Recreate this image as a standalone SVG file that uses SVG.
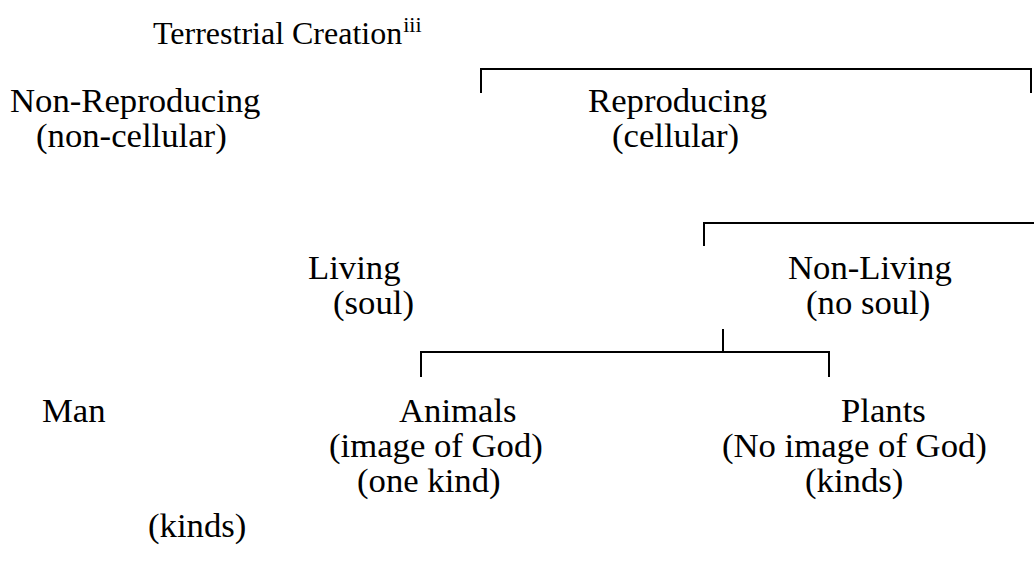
<svg xmlns="http://www.w3.org/2000/svg" width="1034" height="572" viewBox="0 0 1034 572">
<style>
text{font-family:"Liberation Serif","Times New Roman",serif;font-size:34.7px;fill:#000}
.title{font-size:32px}
.sup{font-size:22px}
.ln{stroke:#000;stroke-width:2;fill:none}
</style>
<rect width="1034" height="572" fill="#fff"/>
<g id="title"><text class="title" x="153" y="44">Terrestrial Creation<tspan class="sup" dx="1" dy="-12">iii</tspan></text></g>
<g id="connectors">
<path class="ln" d="M481,93 V69 H1031 V93"/>
<path class="ln" d="M704,246 V223 H1034"/>
<path class="ln" d="M723,329 V352"/>
<path class="ln" d="M421,377 V352 H829 V377"/>
</g>
<g id="non-reproducing"><text x="10" y="112">Non-Reproducing</text><text x="36" y="147">(non-cellular)</text></g>
<g id="reproducing"><text x="588" y="112">Reproducing</text><text x="612" y="147">(cellular)</text></g>
<g id="living"><text x="308" y="279">Living</text><text x="333" y="314">(soul)</text></g>
<g id="non-living"><text x="788" y="279">Non-Living</text><text x="806" y="314">(no soul)</text></g>
<g id="man"><text x="42" y="422">Man</text><text x="148" y="537">(kinds)</text></g>
<g id="animals"><text x="399" y="422">Animals</text><text x="329" y="457">(image of God)</text><text x="357" y="492">(one kind)</text></g>
<g id="plants"><text x="841" y="422">Plants</text><text x="722" y="457">(No image of God)</text><text x="805" y="492">(kinds)</text></g>
</svg>
